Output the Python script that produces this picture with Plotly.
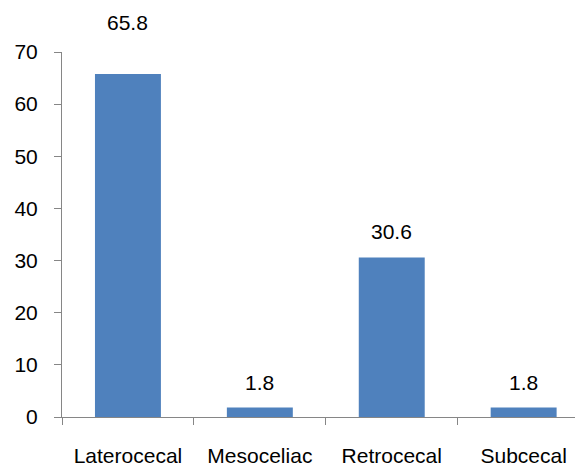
import plotly.graph_objects as go

categories = ["Laterocecal", "Mesoceliac", "Retrocecal", "Subcecal"]
values = [65.8, 1.8, 30.6, 1.8]
y_ticks = [0, 10, 20, 30, 40, 50, 60, 70]

FONT = "Liberation Sans, Arial, sans-serif"
AXIS_COLOR = "#868686"
BAR_COLOR = "#4F81BD"

fig = go.Figure()
fig.add_trace(go.Bar(
    x=categories, y=values, width=0.5,
    marker=dict(color=BAR_COLOR, line=dict(width=0)),
    hoverinfo="skip",
))

top_val = max(values)
for c, v in zip(categories, values):
    fig.add_annotation(
        x=c, y=v, text=f"{v}", showarrow=False, yanchor="bottom",
        yshift=38 if v == top_val else 12,
        font=dict(family=FONT, size=21, color="#000000"),
    )

fig.update_layout(
    width=575, height=461,
    margin=dict(l=54, r=0, t=44, b=52),
    paper_bgcolor="white", plot_bgcolor="white",
    showlegend=False,
    font=dict(family=FONT, size=21, color="#000000"),
    xaxis=dict(
        type="category", range=[-0.5, 3.45],
        showline=True, linecolor=AXIS_COLOR, linewidth=1,
        ticks="outside", tickson="boundaries", ticklen=7,
        tickcolor=AXIS_COLOR, ticklabelstandoff=20,
        showgrid=False, zeroline=False, automargin=False,
        tickfont=dict(family=FONT, size=21, color="#000000"),
    ),
    yaxis=dict(
        range=[0, 70], tickvals=y_ticks,
        showline=True, linecolor=AXIS_COLOR, linewidth=1,
        ticks="outside", ticklen=7, tickcolor=AXIS_COLOR,
        ticklabelstandoff=12, automargin=False,
        showgrid=False, zeroline=False,
        tickfont=dict(family=FONT, size=21, color="#000000"),
    ),
)

fig.write_html("out.html")
